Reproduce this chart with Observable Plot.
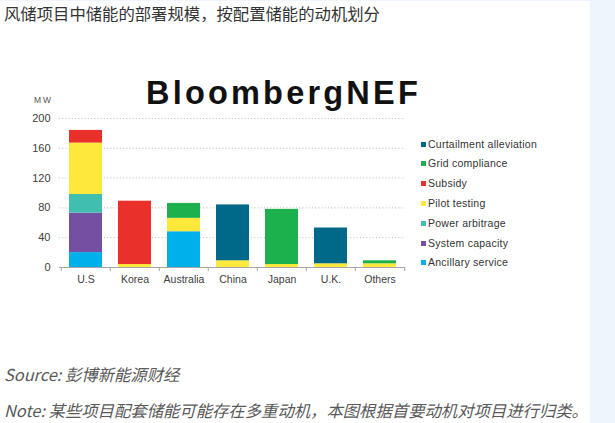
<!DOCTYPE html>
<html>
<head>
<meta charset="utf-8">
<script src="https://cdn.jsdelivr.net/npm/d3@7"></script>
<script src="https://cdn.jsdelivr.net/npm/@observablehq/plot@0.6"></script>
<style>
  html, body { margin: 0; padding: 0; background: #eef5fc; }
  #page { position: absolute; left: 0; top: 1px; width: 590px; height: 422px; background: #fff; overflow: hidden; }
  .cjk { font-family: "Noto Sans CJK SC", "Noto Sans", sans-serif; }
  #heading { position: absolute; left: 4px; top: 2px; font-size: 16.35px; line-height: 20px; color: #333; white-space: nowrap; }
  #brand { position: absolute; left: 146px; top: 76px; font-family: "Liberation Sans", Arial, sans-serif; font-weight: bold; font-size: 32.5px; line-height: 32px; letter-spacing: 3.2px; color: #111; white-space: nowrap; }
  #unit { position: absolute; left: 34px; top: 94px; font-family: "Liberation Sans", Arial, sans-serif; font-size: 8.5px; letter-spacing: 2px; color: #555; }
  #chart { position: absolute; left: 0; top: -1px; }
  #legend { position: absolute; left: 421px; top: 0; font-family: "Liberation Sans", Arial, sans-serif; font-size: 10.5px; color: #333; }
  .lg { position: absolute; left: 0; white-space: nowrap; height: 13px; line-height: 13px; letter-spacing: 0.25px; }
  .sw { display: inline-block; width: 5px; height: 5px; margin-right: 2px; vertical-align: 1px; }
  #source, #note { position: absolute; left: 4px; font-size: 16.35px; line-height: 20px; color: #595959; font-style: italic; white-space: nowrap; }
  #source { top: 363px; }
  #note { top: 399px; }
</style>
</head>
<body>
<div id="page">
  <div id="heading" class="cjk">风储项目中储能的部署规模，按配置储能的动机划分</div>
  <div id="chart"></div>
  <div id="brand">BloombergNEF</div>
  <div id="unit">MW</div>
  <div id="legend"></div>
  <div id="source" class="cjk">Source: 彭博新能源财经</div>
  <div id="note" class="cjk">Note: 某些项目配套储能可能存在多重动机，本图根据首要动机对项目进行归类。</div>
</div>
<script>
// ---- data ----
const categories = ["U.S", "Korea", "Australia", "China", "Japan", "U.K.", "Others"];
// stacking order, bottom to top
const motives = ["Ancillary service", "System capacity", "Power arbitrage", "Pilot testing", "Subsidy", "Grid compliance", "Curtailment alleviation"];
const colors  = ["#00b1e9", "#7550a2", "#40bfae", "#fde83b", "#e9302a", "#1cb14c", "#006888"];
const ancillaryService       = [20, 0, 48, 0, 0, 0, 0];
const systemCapacity         = [53, 0, 0, 0, 0, 0, 0];
const powerArbitrage         = [25, 0, 0, 0, 0, 0, 0];
const pilotTesting           = [69, 4, 18, 9, 4, 5, 5];
const subsidy                = [17, 85, 0, 0, 0, 0, 0];
const gridCompliance         = [0, 0, 20, 0, 74, 0, 4];
const curtailmentAlleviation = [0, 0, 0, 75, 0, 48, 0];
const yTicks = [0, 40, 80, 120, 160, 200];
// legend order, top to bottom
const legendOrder = ["Curtailment alleviation", "Grid compliance", "Subsidy", "Pilot testing", "Power arbitrage", "System capacity", "Ancillary service"];

const series = [ancillaryService, systemCapacity, powerArbitrage, pilotTesting, subsidy, gridCompliance, curtailmentAlleviation];
const rows = [];
motives.forEach((m, i) => categories.forEach((c, j) => rows.push({country: c, motive: m, value: series[i][j]})));

const W = 420, mL = 59, mR = 15;
const step = (W - mL - mR) / categories.length;

const chart = Plot.plot({
  width: W,
  height: 300,
  marginTop: 118,
  marginBottom: 33,
  marginLeft: mL,
  marginRight: mR,
  style: {background: "transparent", fontFamily: "Liberation Sans, Arial, sans-serif", color: "#404040", overflow: "visible"},
  x: {domain: categories, paddingInner: 0.33, paddingOuter: 0.165, label: null, axis: null},
  y: {domain: [0, 200], label: null, axis: null},
  color: {domain: motives, range: colors},
  marks: [
    Plot.gridY(yTicks.filter(d => d > 0), {stroke: "#c4c4c4", strokeOpacity: 1, strokeDasharray: "1.2,2"}),
    Plot.barY(rows.filter(d => d.value > 0), {x: "country", y: "value", fill: "motive", order: motives}),
    Plot.ruleY([0], {stroke: "#a6a6a6"}),
    Plot.ruleX(categories, {x: d => d, dx: -step / 2, y1: 0, y2: -5.5, stroke: "#a6a6a6"}),
    Plot.ruleX(categories.slice(-1), {x: d => d, dx: step / 2, y1: 0, y2: -5.5, stroke: "#a6a6a6"}),
    Plot.axisY(yTicks, {tickSize: 0, tickPadding: 9, fontSize: 11, fill: "#404040"}),
    Plot.axisX(categories, {tickSize: 0, tickPadding: 8, fontSize: 10.5, fill: "#404040", style: {letterSpacing: "0.8px"}})
  ]
});
document.getElementById("chart").appendChild(chart);

// legend
const legend = document.getElementById("legend");
legendOrder.forEach((m, i) => {
  const div = document.createElement("div");
  div.className = "lg";
  div.style.top = (136.5 + i * 19.8) + "px";
  const sw = document.createElement("span");
  sw.className = "sw";
  sw.style.background = colors[motives.indexOf(m)];
  div.appendChild(sw);
  div.appendChild(document.createTextNode(m));
  legend.appendChild(div);
});
</script>
</body>
</html>
